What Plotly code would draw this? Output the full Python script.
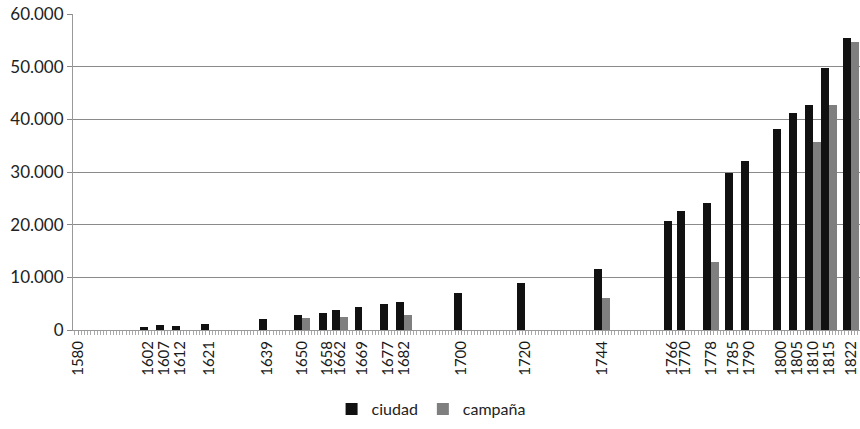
import plotly.graph_objects as go

years = [1580, 1602, 1607, 1612, 1621, 1639, 1650, 1658, 1662, 1669, 1677, 1682,
         1700, 1720, 1744, 1766, 1770, 1778, 1785, 1790, 1800, 1805, 1810, 1815, 1822]
ciudad = [None, 600, 900, 850, 1100, 2100, 2800, 3300, 3800, 4400, 4900, 5300,
          7000, 8900, 11600, 20700, 22600, 24100, 29800, 32100, 38100, 41200, 42700, 49700, 55400]
campana = [None, None, None, None, None, None, 2300, None, 2500, None, None, 2800,
           None, None, 6100, None, None, 12900, None, None, None, None, 35700, 42700, 54600]
tick_labels = [str(y) for y in years]

FONT = "Lato"

fig = go.Figure()
fig.add_trace(go.Bar(x=years, y=ciudad, name="ciudad", marker_color="#111111",
                     width=2.5, offset=-2.5, marker_line_width=0))
fig.add_trace(go.Bar(x=years, y=campana, name="campaña", marker_color="#7f7f7f",
                     width=2.5, offset=0, marker_line_width=0))

fig.update_layout(
    width=860, height=429,
    margin=dict(l=73, r=0, t=14, b=99),
    plot_bgcolor="white", paper_bgcolor="white",
    separators=",.",
    font=dict(family=FONT, size=16, color="#222"),
    showlegend=True,
    legend=dict(orientation="h", x=0.455, xanchor="center", y=-0.25, yanchor="middle",
                font=dict(size=16, family=FONT, color="#222"), traceorder="normal"),
    bargap=0,
)
fig.update_xaxes(
    range=[1578.4, 1824.7], automargin=False,
    tickmode="array", tickvals=years, ticktext=tick_labels,
    tickangle=-90, tickfont=dict(size=15, family=FONT, color="#1a1a1a"),
    ticks="outside", ticklen=4, tickcolor="#999",
    minor=dict(ticks="outside", ticklen=4, dtick=1, tick0=1580, tickcolor="#aaa", showgrid=False),
    showline=True, linecolor="#999", linewidth=1,
    showgrid=False, zeroline=False,
)
fig.update_yaxes(
    range=[0, 60000], automargin=False,
    tickvals=[0, 10000, 20000, 30000, 40000, 50000, 60000],
    tickformat=",d",
    tickfont=dict(size=17, family=FONT, color="#222"),
    ticks="outside", ticklen=5, tickcolor="#888",
    showgrid=True, gridcolor="#8a8a8a", gridwidth=1,
    showline=True, linecolor="#999", linewidth=1,
    zeroline=False,
)

fig.write_html(
    "out.html",
    config={"displayModeBar": False},
    post_script="document.body.style.margin='0';document.body.style.overflow='hidden';",
)
